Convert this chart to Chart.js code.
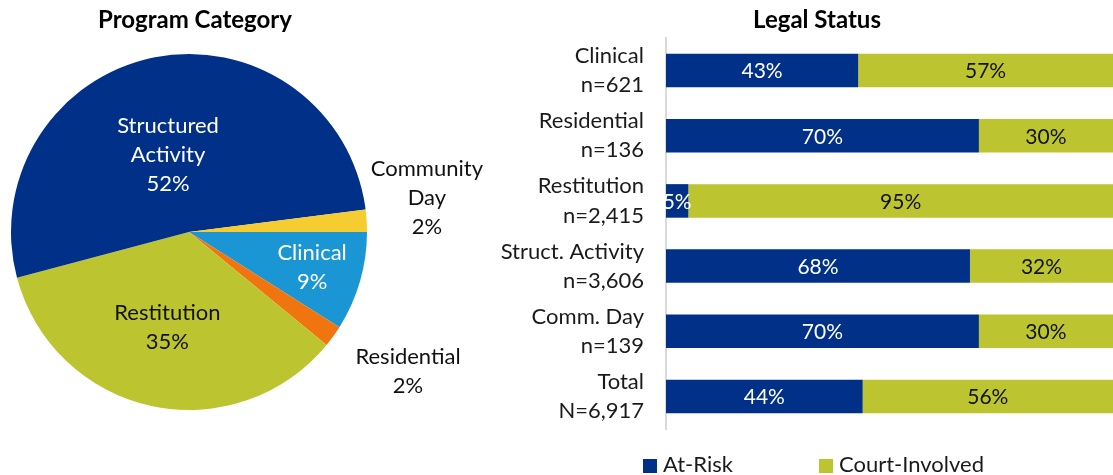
<!DOCTYPE html>
<html>
<head>
<meta charset="utf-8">
<script src="https://cdn.jsdelivr.net/npm/chart.js@4.4.1/dist/chart.umd.min.js"></script>
<style>
  body { margin: 0; background: #fff; font-family: Lato, sans-serif; }
  #wrap { position: relative; width: 1113px; height: 475px; overflow: hidden; }
  .ttl { position: absolute; top: 4px; font-weight: bold; font-size: 24px; color: #000; white-space: nowrap; transform: translateX(-50%); }
  #pieBox { position: absolute; left: 0; top: 0; width: 510px; height: 475px; }
  #barBox { position: absolute; left: 480px; top: 0; width: 633px; height: 475px; }
  #legend { position: absolute; top: 450px; left: 643px; font-size: 22px; color: #1a1a1a; white-space: nowrap; }
  #legend span.item { position: absolute; top: 0; }
  #legend i { display: inline-block; width: 14px; height: 14px; margin-right: 6px; vertical-align: -1px; }
</style>
</head>
<body>
<div id="wrap">
  <div id="pieBox"><canvas id="pieChart"></canvas></div>
  <div id="barBox"><canvas id="barChart"></canvas></div>
  <div class="ttl" style="left:195px">Program Category</div>
  <div class="ttl" style="left:817px">Legal Status</div>
  <div id="legend"></div>
</div>
<script>
// program category (pie), counts per program
const pieLabels = ['Clinical', 'Residential', 'Restitution', 'Structured Activity', 'Community Day'];
const pieCounts = [621, 136, 2415, 3606, 139];

// legal status (stacked bars), percent of each group
const barNames = ['Clinical', 'Residential', 'Restitution', 'Struct. Activity', 'Comm. Day', 'Total'];
const barCounts = [621, 136, 2415, 3606, 139, 6917];
const atRisk = [43, 70, 5, 68, 70, 44];
const courtInvolved = [57, 30, 95, 32, 30, 56];

const NAVY = '#003087';
const GREEN = '#bcc52f';
const FONT = 'Lato';

Chart.defaults.font.family = FONT;
Chart.defaults.color = '#1a1a1a';
Chart.defaults.animation = false;

let pieTotal = pieCounts.reduce((a, b) => a + b, 0);

// label placement for the pie: radius fraction and small turn (deg) off the slice middle
const pieLabelR = [0.72, 1.46, 0.55, 0.45, 1.35];
const pieLabelTurn = [0, -3.3, 0.5, -4.1, -4.5];
const pieLabelColor = ['#fff', '#111', '#111', '#fff', '#111'];

const pieLabelsPlugin = {
  id: 'pieLabels',
  afterDatasetsDraw(chart) {
    const ctx = chart.ctx;
    const meta = chart.getDatasetMeta(0);
    ctx.save();
    ctx.font = '22px ' + FONT;
    ctx.textAlign = 'center';
    ctx.textBaseline = 'middle';
    meta.data.forEach((arc, i) => {
      let mid = (arc.startAngle + arc.endAngle) / 2 + pieLabelTurn[i] * Math.PI / 180;
      let r = arc.outerRadius * pieLabelR[i];
      let x = arc.x + Math.cos(mid) * r;
      let y = arc.y + Math.sin(mid) * r;
      let lines = pieLabels[i].split(' ');
      lines.push(Math.round(pieCounts[i] / pieTotal * 100) + '%');
      let lh = 29;
      let y0 = y - (lines.length - 1) * lh / 2;
      ctx.fillStyle = pieLabelColor[i];
      lines.forEach((t, k) => ctx.fillText(t, x, y0 + k * lh));
    });
    ctx.restore();
  }
};

new Chart(document.getElementById('pieChart'), {
  type: 'pie',
  data: {
    labels: pieLabels,
    datasets: [{
      data: pieCounts,
      backgroundColor: ['#1b96d4', '#f0750f', '#bcc52f', '#003087', '#f6cd30'],
      borderWidth: 0
    }]
  },
  options: {
    responsive: true,
    maintainAspectRatio: false,
    rotation: 90,
    layout: { padding: { left: 11, right: 143, top: 54, bottom: 65 } },
    plugins: { legend: { display: false }, tooltip: { enabled: false } }
  },
  plugins: [pieLabelsPlugin]
});

const barLabelsPlugin = {
  id: 'barLabels',
  afterDatasetsDraw(chart) {
    const ctx = chart.ctx;
    ctx.save();
    ctx.font = '21px ' + FONT;
    ctx.textAlign = 'center';
    ctx.textBaseline = 'middle';
    chart.data.datasets.forEach((ds, d) => {
      ctx.fillStyle = d === 0 ? '#fff' : '#111';
      chart.getDatasetMeta(d).data.forEach((bar, i) => {
        ctx.fillText(ds.data[i] + '%', (bar.x + bar.base) / 2, bar.y + 1);
      });
    });
    ctx.restore();
  }
};

let tickLabels = barNames.map((n, i) =>
  [n, (i === barNames.length - 1 ? 'N=' : 'n=') + barCounts[i].toLocaleString('en-US')]);

let barChart = new Chart(document.getElementById('barChart'), {
  type: 'bar',
  data: {
    labels: tickLabels,
    datasets: [
      { label: 'At-Risk', data: atRisk, backgroundColor: NAVY, barPercentage: 0.515, categoryPercentage: 1 },
      { label: 'Court-Involved', data: courtInvolved, backgroundColor: GREEN, barPercentage: 0.515, categoryPercentage: 1 }
    ]
  },
  options: {
    indexAxis: 'y',
    responsive: true,
    maintainAspectRatio: false,
    layout: { padding: { left: 0, right: 0, top: 38, bottom: 46 } },
    scales: {
      x: { stacked: true, min: 0, max: 100, display: false },
      y: {
        stacked: true,
        grid: { display: false, drawTicks: false },
        border: { display: true, color: '#d9d9d9', width: 2 },
        ticks: { autoSkip: false, padding: 22, color: '#1a1a1a', font: { size: 22, lineHeight: 1.32 } },
        afterFit(s) {
          s.width = 186;
          // labels sit inside the categories, no extra room needed above/below
          s.paddingTop = 0;
          s.paddingBottom = 0;
        }
      }
    },
    plugins: {
      tooltip: { enabled: false },
      legend: { display: false }
    }
  },
  plugins: [barLabelsPlugin]
});

// html legend from the datasets
let legendX = [0, 176];
document.getElementById('legend').innerHTML = barChart.data.datasets.map((ds, i) =>
  `<span class="item" style="left:${legendX[i]}px"><i style="background:${ds.backgroundColor}"></i>${ds.label}</span>`
).join('');
</script>
</body>
</html>
